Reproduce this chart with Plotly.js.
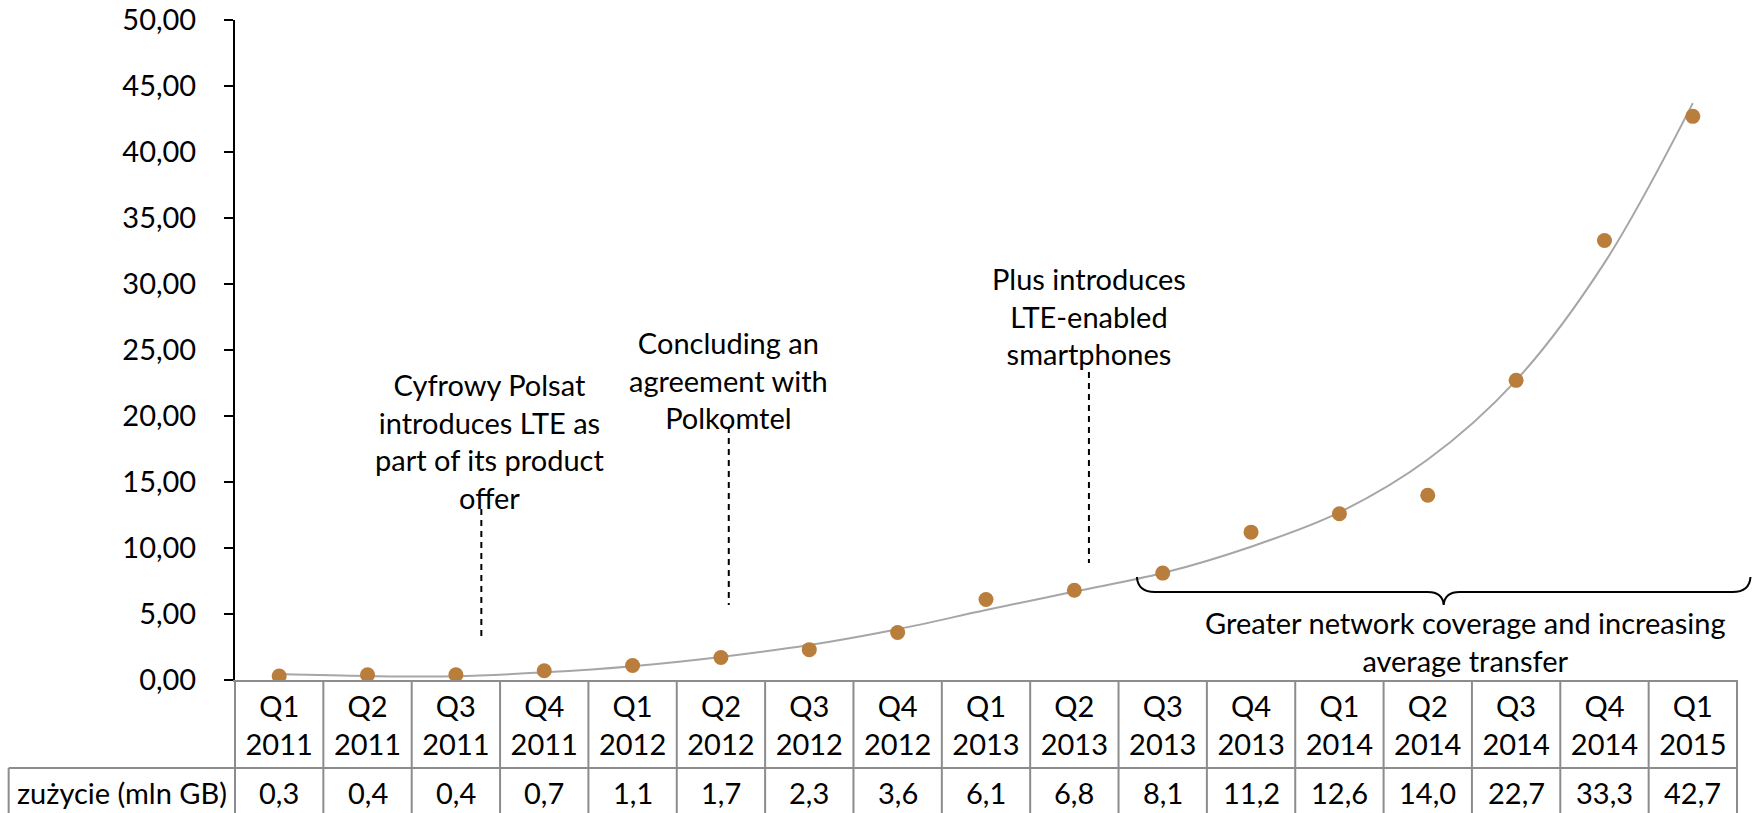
<!DOCTYPE html>
<html>
<head>
<meta charset="utf-8">
<script src="https://cdn.plot.ly/plotly-3.0.1.min.js"></script>
<style>html,body{margin:0;padding:0;background:#fff;}#chart{width:1754px;height:813px;}</style>
</head>
<body>
<div id="chart"></div>
<script>
// ---- data ----
const quarters = ["Q1","Q2","Q3","Q4","Q1","Q2","Q3","Q4","Q1","Q2","Q3","Q4","Q1","Q2","Q3","Q4","Q1"];
const years = ["2011","2011","2011","2011","2012","2012","2012","2012","2013","2013","2013","2013","2014","2014","2014","2014","2015"];
const usage = [0.3,0.4,0.4,0.7,1.1,1.7,2.3,3.6,6.1,6.8,8.1,11.2,12.6,14.0,22.7,33.3,42.7];
const usageLabels = ["0,3","0,4","0,4","0,7","1,1","1,7","2,3","3,6","6,1","6,8","8,1","11,2","12,6","14,0","22,7","33,3","42,7"];
// trendline values at each quarter
const trend = [0.45,0.3,0.28,0.58,1.05,1.75,2.65,3.85,5.3,6.7,8.1,10.1,12.7,16.7,22.7,31.6,43.7];
const rowLabel = "zużycie (mln GB)";
const notes = [
  "Cyfrowy Polsat<br>introduces LTE as<br>part of its product<br>offer",
  "Concluding an<br>agreement with<br>Polkomtel",
  "Plus introduces<br>LTE-enabled<br>smartphones"
];
const braceText = "Greater network coverage and increasing<br>average transfer";

// ---- layout helpers (pixel -> paper) ----
const W = 1754, H = 813;
const L = 234.5, R = 1737.5, T = 20, B = 680;
const px = x => (x - L) / (R - L);
const py = y => (B - y) / (B - T);

const FONT = "Lato, 'Open Sans', sans-serif";
const FS = 29;
const idx = usage.map((_, i) => i);

const traces = [
  {x: idx, y: trend, type: "scatter", mode: "lines",
   line: {color: "#A6A6A6", width: 2, shape: "spline", smoothing: 1.0}, hoverinfo: "skip"},
  {x: idx, y: usage, type: "scatter", mode: "markers",
   marker: {color: "#B97D3C", size: 15}}
];

const shapes = [];
const grey = "#8C8C8C";
// table verticals
const nCols = usage.length;
for (let k = 0; k <= nCols; k++) {
  const xx = L + (R - L) * k / nCols;
  shapes.push({type: "line", xref: "paper", yref: "paper", x0: px(xx), x1: px(xx), y0: py(680), y1: py(820),
               line: {color: grey, width: 2}});
}
// row separator and label cell borders
shapes.push({type: "line", xref: "paper", yref: "paper", x0: px(8), x1: px(R), y0: py(768), y1: py(768), line: {color: grey, width: 2}});
shapes.push({type: "line", xref: "paper", yref: "paper", x0: px(8), x1: px(8), y0: py(768), y1: py(820), line: {color: grey, width: 2}});

// dashed pointer lines
const dashed = [[481, 509, 638], [728.6, 427, 605], [1089, 372, 563]];
dashed.forEach(d => shapes.push({type: "line", xref: "paper", yref: "paper",
  x0: px(d[0]), x1: px(d[0]), y0: py(d[1]), y1: py(d[2]), line: {color: "#000", width: 2, dash: "6px,5px"}}));

// brace
const P = (x, y) => px(x).toFixed(5) + "," + py(y).toFixed(5);
const bracePath = "M" + P(1137, 577) + " Q" + P(1138, 592) + " " + P(1155, 592) +
  " L" + P(1428, 592) + " Q" + P(1443, 592) + " " + P(1444, 605) +
  " Q" + P(1445, 592) + " " + P(1460, 592) +
  " L" + P(1733, 592) + " Q" + P(1750, 592) + " " + P(1751, 577);
shapes.push({type: "path", xref: "paper", yref: "paper", path: bracePath, line: {color: "#000", width: 2}});

const annotations = [];
// values row
usage.forEach((v, i) => annotations.push({x: i, y: py(792), xref: "x", yref: "paper", text: usageLabels[i],
  showarrow: false, xanchor: "center", yanchor: "middle", font: {family: FONT, size: FS, color: "#000"}}));
annotations.push({x: px(121), y: py(792), xref: "paper", yref: "paper", text: rowLabel, showarrow: false,
  xanchor: "center", yanchor: "middle", font: {family: FONT, size: FS, color: "#000"}});
// event notes
const notePos = [[489, 440.5], [728.6, 380.5], [1089, 316]];
notes.forEach((t, i) => annotations.push({x: px(notePos[i][0]), y: py(notePos[i][1]), xref: "paper", yref: "paper",
  text: t, showarrow: false, xanchor: "center", yanchor: "middle", align: "center",
  font: {family: FONT, size: FS, color: "#000"}}));
annotations.push({x: px(1466), y: py(641.5), xref: "paper", yref: "paper", text: braceText, showarrow: false,
  xanchor: "center", yanchor: "middle", align: "center", font: {family: FONT, size: FS, color: "#000"}});

const layout = {
  width: W, height: H,
  margin: {l: L, r: W - R, t: T, b: H - B, pad: 0},
  paper_bgcolor: "#fff", plot_bgcolor: "#fff",
  showlegend: false,
  separators: ", ",
  font: {family: FONT, size: FS, color: "#000"},
  xaxis: {range: [-0.5, nCols - 0.5], tickvals: idx, ticktext: quarters.map((q, i) => q + "<br>" + years[i]),
          showline: true, linecolor: grey, linewidth: 2, ticks: "", showgrid: false, zeroline: false,
          tickfont: {family: FONT, size: FS, color: "#000"}, fixedrange: true},
  yaxis: {range: [0, 50], dtick: 5, tick0: 0, tickformat: ".2f", showline: true, linecolor: "#000", linewidth: 2,
          ticks: "outside", ticklen: 9, tickwidth: 2, tickcolor: "#000", showgrid: false, zeroline: false,
          ticklabelstandoff: 22, tickfont: {family: FONT, size: FS, color: "#000"}},
  shapes: shapes,
  annotations: annotations
};

Plotly.newPlot("chart", traces, layout, {displayModeBar: false, staticPlot: true});
</script>
</body>
</html>
